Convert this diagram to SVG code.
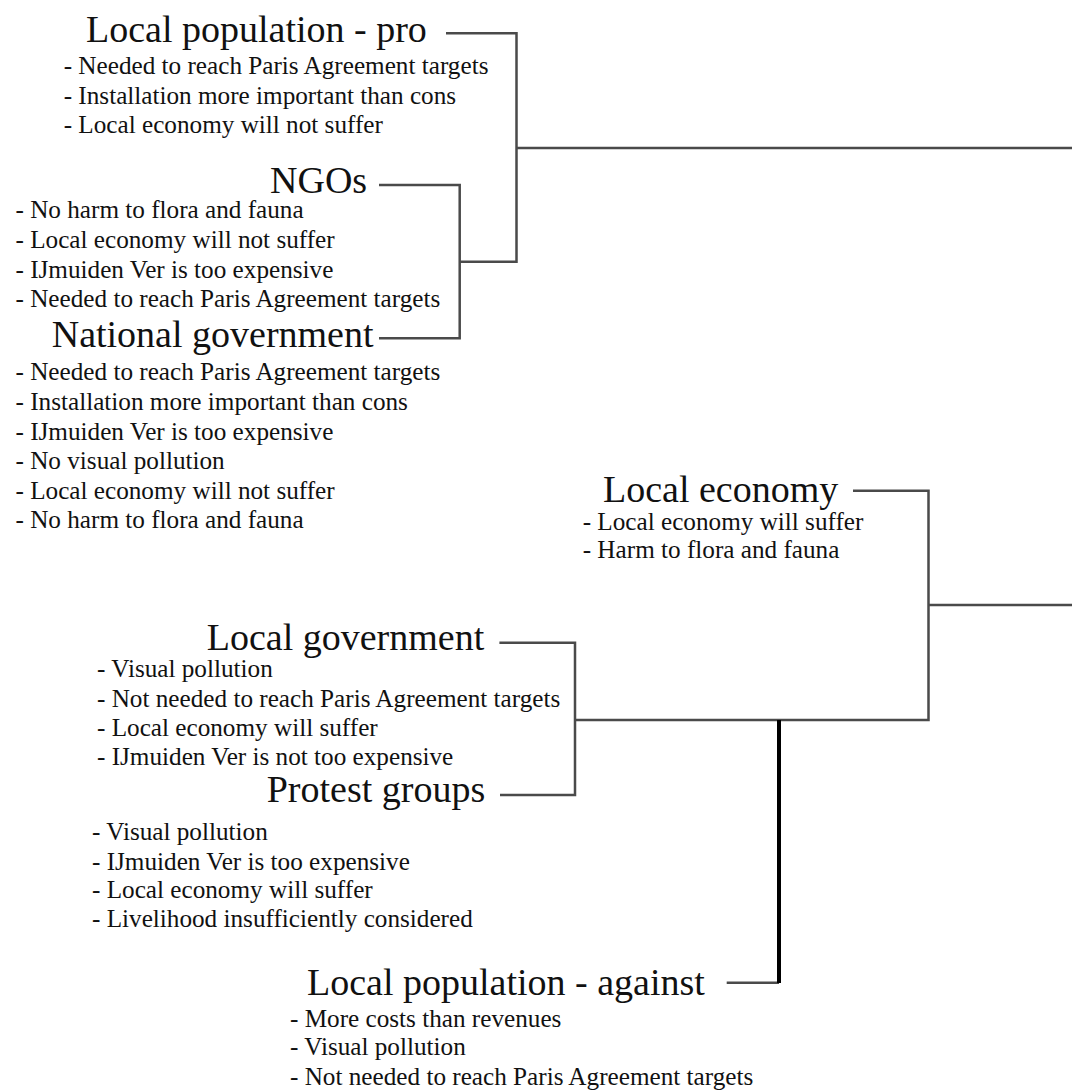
<svg xmlns="http://www.w3.org/2000/svg" width="1072" height="1092" viewBox="0 0 1072 1092">
<style>
.t{font-family:"Liberation Serif","Times New Roman",serif;font-size:38px;fill:#111}
.b{font-family:"Liberation Serif","Times New Roman",serif;font-size:25.2px;fill:#111}
.c{fill:none;stroke:#4a4a4a;stroke-width:2.5}
.k{fill:none;stroke:#000;stroke-width:4}
</style>
<rect width="1072" height="1092" fill="#fff"/>
<g id="connectors">
<path class="c" d="M446 33.3H516.5V261.7H459.7"/>
<path class="c" d="M516.5 148H1072"/>
<path class="c" d="M379 185H459.7V338.3H379"/>
<path class="c" d="M853 490.7H928.5V720H575"/>
<path class="c" d="M928.5 605H1072"/>
<path class="c" d="M499.4 642.7H575V795H500"/>
<path class="c" d="M726.7 982.7H779"/>
<path class="k" d="M779 720V983"/>
</g>
<g id="local-population-pro">
<text class="t" x="86" y="41.7">Local population - pro</text>
<text class="b" x="63.7" y="74">- Needed to reach Paris Agreement targets</text>
<text class="b" x="63.7" y="104">- Installation more important than cons</text>
<text class="b" x="63.7" y="133.3">- Local economy will not suffer</text>
</g>
<g id="ngos">
<text class="t" x="270" y="193.3">NGOs</text>
<text class="b" x="15.5" y="218.3">- No harm to flora and fauna</text>
<text class="b" x="15.5" y="248.3">- Local economy will not suffer</text>
<text class="b" x="15.5" y="278.3">- IJmuiden Ver is too expensive</text>
<text class="b" x="15.5" y="307">- Needed to reach Paris Agreement targets</text>
</g>
<g id="national-government">
<text class="t" x="51.7" y="346.7">National government</text>
<text class="b" x="15.5" y="380">- Needed to reach Paris Agreement targets</text>
<text class="b" x="15.5" y="410">- Installation more important than cons</text>
<text class="b" x="15.5" y="439.5">- IJmuiden Ver is too expensive</text>
<text class="b" x="15.5" y="469">- No visual pollution</text>
<text class="b" x="15.5" y="498.5">- Local economy will not suffer</text>
<text class="b" x="15.5" y="528.3">- No harm to flora and fauna</text>
</g>
<g id="local-economy">
<text class="t" x="603" y="501.7">Local economy</text>
<text class="b" x="582.7" y="530">- Local economy will suffer</text>
<text class="b" x="582.7" y="558.3">- Harm to flora and fauna</text>
</g>
<g id="local-government">
<text class="t" x="206.7" y="650">Local government</text>
<text class="b" x="97" y="676.7">- Visual pollution</text>
<text class="b" x="97" y="706.7">- Not needed to reach Paris Agreement targets</text>
<text class="b" x="97" y="735.5">- Local economy will suffer</text>
<text class="b" x="97" y="765">- IJmuiden Ver is not too expensive</text>
</g>
<g id="protest-groups">
<text class="t" x="266.7" y="801.7">Protest groups</text>
<text class="b" x="92" y="840">- Visual pollution</text>
<text class="b" x="92" y="870">- IJmuiden Ver is too expensive</text>
<text class="b" x="92" y="898.3">- Local economy will suffer</text>
<text class="b" x="92" y="926.7">- Livelihood insufficiently considered</text>
</g>
<g id="local-population-against">
<text class="t" x="307" y="995">Local population - against</text>
<text class="b" x="290" y="1026.7">- More costs than revenues</text>
<text class="b" x="290" y="1055">- Visual pollution</text>
<text class="b" x="290" y="1085">- Not needed to reach Paris Agreement targets</text>
</g>
</svg>
